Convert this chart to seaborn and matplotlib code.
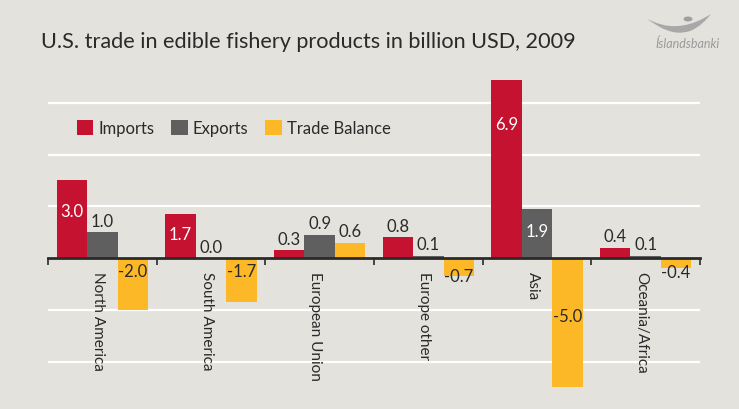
import matplotlib
matplotlib.use("Agg")
import matplotlib.pyplot as plt
from matplotlib.path import Path
from matplotlib.patches import PathPatch, Circle
import numpy as np
import pandas as pd
import seaborn as sns

# Trade data, billion USD, 2009
regions = ["North America", "South America", "European Union",
           "Europe other", "Asia", "Oceania/Africa"]
imports = [3.0, 1.7, 0.3, 0.8, 6.9, 0.4]
exports = [1.0, 0.0, 0.9, 0.1, 1.9, 0.1]
balance = [-2.0, -1.7, 0.6, -0.7, -5.0, -0.4]
series_names = ["Imports", "Exports", "Trade Balance"]
title = "U.S. trade in edible fishery products in billion USD, 2009"

colors = ["#c41230", "#5f5f5f", "#fdb827"]
bg = "#e3e2dc"
ink = "#2a2a2a"

df = pd.DataFrame({
    "region": regions * 3,
    "series": sum([[s] * len(regions) for s in series_names], []),
    "value": imports + exports + balance,
})

sns.set_theme(style="white")
plt.rcParams["font.family"] = ["Lato", "DejaVu Sans"]

W, H = 739, 410
fig = plt.figure(figsize=(W / 100, H / 100), dpi=100, facecolor=bg)
ax = fig.add_axes([48 / W, 6 / H, 652 / W, 326 / H], facecolor=bg)

sns.barplot(data=df, x="region", y="value", hue="series", order=regions,
            hue_order=series_names, palette=colors, saturation=1,
            width=0.84, ax=ax, legend=True, edgecolor="none", linewidth=0)

ax.set_xlim(-0.5, len(regions) - 0.5)
ax.set_ylim(-5.6, 7.0)
ax.set_xlabel("")
ax.set_ylabel("")

# white horizontal grid behind the bars
ax.set_axisbelow(True)
ax.set_yticks([-4, -2, 0, 2, 4, 6])
ax.yaxis.grid(True, color="white", linewidth=1.6)
ax.tick_params(axis="y", left=False, labelleft=False)

for s in ["top", "right", "left"]:
    ax.spines[s].set_visible(False)
ax.spines["bottom"].set_position(("data", 0))
ax.spines["bottom"].set_color(ink)
ax.spines["bottom"].set_linewidth(2.0)
ax.spines["bottom"].set_zorder(5)

# boundary ticks between regions
ax.set_xticks(np.arange(-0.5, len(regions)))
ax.set_xticklabels([])
ax.tick_params(axis="x", which="major", direction="out", length=5,
               width=1.2, color=ink, bottom=True)

# region names, read downwards just under the zero line
for i, name in enumerate(regions):
    ax.annotate(name, (i - 0.04, 0), xytext=(0, -9),
                textcoords="offset points", rotation=-90, ha="center",
                va="top", fontsize=11, color=ink, zorder=6)

# value labels
inside_heights = {
    ("Imports", 3.0): 1.82, ("Imports", 1.7): 0.93, ("Imports", 6.9): 5.19,
    ("Exports", 1.9): 1.05,
    ("Trade Balance", -2.0): -0.5, ("Trade Balance", -1.7): -0.5,
    ("Trade Balance", -0.7): -0.7, ("Trade Balance", -0.4): -0.55,
    ("Trade Balance", -5.0): -2.25,
}
for name, cont, vals in zip(series_names, ax.containers,
                            [imports, exports, balance]):
    for bar, v in zip(cont.patches, vals):
        xc = bar.get_x() + bar.get_width() / 2
        key = (name, v)
        if key in inside_heights:
            col = ink if name == "Trade Balance" else "white"
            ax.text(xc, inside_heights[key], f"{v:.1f}", ha="center",
                    va="center", fontsize=12, color=col, zorder=6)
        else:
            ax.annotate(f"{v:.1f}", (xc, v), xytext=(0, 2.5),
                        textcoords="offset points", ha="center",
                        va="bottom", fontsize=12, color=ink, zorder=6)

# legend
leg = ax.legend(loc="center left", ncol=3, frameon=False, fontsize=12,
                handlelength=1.0, handleheight=1.0, handletextpad=0.3,
                columnspacing=1.0, labelcolor=ink,
                bbox_to_anchor=(0.021, (5.03 + 5.6) / 12.6),
                bbox_transform=ax.transAxes)

# title
fig.text(41 / W, 1 - 42 / H, title, fontsize=15.6, color=ink,
         ha="left", va="center")


# bank logo: swoosh, dot and name
def px(x, y):
    return (x / W, 1 - y / H)


verts = [px(647, 20),
         px(658, 27), px(672, 38), px(690, 32),
         px(700, 28), px(706, 21), px(711, 15),
         px(703, 20), px(692, 26), px(678, 27),
         px(665, 28), px(656, 24), px(647, 20)]
codes = [Path.MOVETO] + [Path.CURVE4] * 12
fig.add_artist(PathPatch(Path(verts, codes), facecolor="#a8a8a8",
                         edgecolor="none", transform=fig.transFigure))
fig.add_artist(Circle((688 / W, 1 - 20 / H), 4.5 / W, facecolor="#a0a0a0",
                      edgecolor="none", transform=fig.transFigure))
fig.text(688 / W, 1 - 44 / H, "Íslandsbanki", fontsize=9, style="italic",
         color="#9a9a9a", ha="center", va="center")

fig.savefig("out.png", dpi=100, facecolor=bg)
